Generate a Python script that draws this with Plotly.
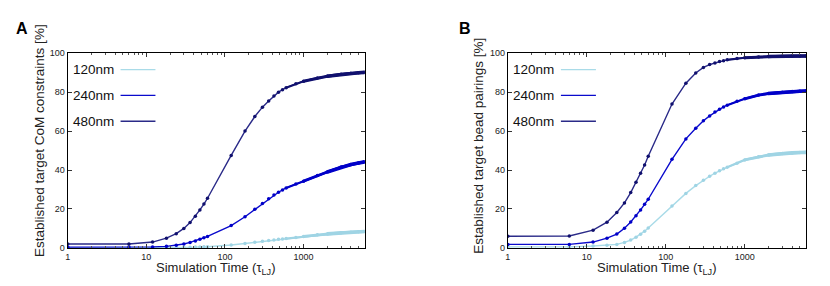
import plotly.graph_objects as go

# ---- data -------------------------------------------------------------
time = [1, 6, 12, 18, 24, 30, 36, 42, 48, 54, 60, 120, 180, 240, 300, 360,
        420, 480, 540, 600, 800, 1000, 1500, 2000, 3000, 4000, 5000, 6000]
series_names = ["120nm", "240nm", "480nm"]

a_120 = [0.0, 0.05, 0.1, 0.15, 0.2, 0.3, 0.35, 0.4, 0.5, 0.55, 0.6, 1.5, 2.3, 2.9,
         3.4, 3.8, 4.1, 4.4, 4.6, 4.8, 5.4, 5.9, 6.7, 7.2, 7.8, 8.1, 8.3, 8.4]
a_240 = [0.4, 0.4, 0.5, 0.8, 1.3, 2.0, 2.8, 3.6, 4.5, 5.2, 5.9, 11.5, 16.0, 19.8,
         22.8, 25.2, 27.2, 28.6, 29.8, 30.8, 32.8, 34.3, 37.2, 39.0, 41.5, 42.8, 43.6, 44.2]
a_480 = [2.0, 2.0, 3.0, 5.0, 7.3, 10.0, 13.0, 16.3, 19.5, 22.5, 25.5, 47.5, 60.0, 67.5,
         72.3, 75.5, 78.0, 80.0, 81.3, 82.3, 84.3, 85.6, 87.3, 88.2, 89.2, 89.7, 90.0, 90.2]

b_120 = [0.5, 0.5, 1.0, 1.3, 1.8, 2.8, 4.0, 5.5, 7.0, 8.6, 10.2, 21.5, 28.0, 32.0,
         34.8, 36.8, 38.4, 39.6, 40.6, 41.4, 43.5, 45.2, 46.8, 47.7, 48.5, 48.8, 49.0, 49.1]
b_240 = [1.8, 1.8, 3.0, 5.0, 7.1, 10.1, 13.3, 16.5, 19.5, 22.4, 25.0, 45.5, 56.0, 61.5,
         65.3, 67.8, 69.8, 71.2, 72.4, 73.3, 75.3, 76.6, 78.5, 79.3, 80.0, 80.3, 80.5, 80.6]
b_480 = [6.0, 6.1, 9.1, 13.2, 18.2, 23.1, 28.4, 33.7, 38.3, 42.6, 47.1, 73.9, 84.6, 89.9,
         92.7, 94.2, 95.0, 95.7, 96.2, 96.6, 97.3, 97.7, 98.1, 98.3, 98.5, 98.6, 98.6, 98.6]

x_ticks = [1, 10, 100, 1000]
x_tick_labels = ["1", "10", "100", "1000"]
y_ticks = [0, 20, 40, 60, 80, 100]

# ---- style -------------------------------------------------------------
line_colors = ["#a9dbe8", "#0a0acc", "#2a2a88"]
marker_colors = ["#9fd4e4", "#0000c8", "#10106e"]
# dense-sampling tail drawn as progressively thicker band
TAILS = [(600, 2.2), (1000, 2.9), (2000, 3.6)]

fig = go.Figure()

panels = [
    ("x", "y", [a_120, a_240, a_480]),
    ("x2", "y2", [b_120, b_240, b_480]),
]

for xr, yr, data in panels:
    for name, vals, lc, mc in zip(series_names, data, line_colors, marker_colors):
        fig.add_trace(go.Scatter(
            x=time, y=vals, xaxis=xr, yaxis=yr, name=name, showlegend=False,
            mode="lines+markers",
            line=dict(color=lc, width=1.4),
            marker=dict(color=mc, size=3.5, symbol="circle"),
        ))
        for t0, w in TAILS:
            tx = [t for t in time if t >= t0]
            ty = [v for t, v in zip(time, vals) if t >= t0]
            fig.add_trace(go.Scatter(
                x=tx, y=ty, xaxis=xr, yaxis=yr, showlegend=False, mode="lines",
                line=dict(color=mc, width=w), hoverinfo="skip",
            ))

font_family = "Liberation Sans, Arial, sans-serif"

def xaxis_cfg(domain, anchor):
    return dict(
        type="log", domain=domain, range=[0, 3.778], anchor=anchor,
        tickvals=x_ticks, ticktext=x_tick_labels,
        ticks="inside", ticklen=4, tickwidth=1, tickcolor="#333",
        minor=dict(ticks="inside", ticklen=2, tickcolor="#555", dtick="D1", showgrid=False),
        showline=True, linecolor="black", linewidth=1.2, mirror="allticks",
        showgrid=False, zeroline=False,
        tickfont=dict(size=9, color="#222", family=font_family),
    )

def yaxis_cfg(domain, anchor):
    return dict(
        domain=domain, range=[0, 100], tickvals=y_ticks, anchor=anchor,
        ticks="inside", ticklen=4, tickwidth=1, tickcolor="#333",
        showline=True, linecolor="black", linewidth=1.2, mirror="allticks",
        showgrid=False, zeroline=False,
        tickfont=dict(size=9, color="#222", family=font_family),
    )

W, H = 830, 286
ydom = [1 - 251.7 / H, 1 - 50 / H]
xa = [65 / W, 363 / W]
xb = [506.7 / W, 806 / W]

fig.update_layout(
    width=W, height=H,
    margin=dict(l=0, r=0, t=0, b=0),
    paper_bgcolor="white", plot_bgcolor="white",
    font=dict(family=font_family, color="#222"),
    xaxis=xaxis_cfg(xa, "y"), yaxis=yaxis_cfg(ydom, "x"),
    xaxis2=xaxis_cfg(xb, "y2"), yaxis2=yaxis_cfg(ydom, "x2"),
    showlegend=False,
)

annotations = []
shapes = []
ytitles = ["Established target CoM constraints [%]", "Established target bead pairings [%]"]
labels = ["A", "B"]
for i, (dom, xref) in enumerate([(xa, "x"), (xb, "x2")]):
    yref = "y" if i == 0 else "y2"
    annotations.append(dict(
        text="Simulation Time (τ<sub>LJ</sub>)", xref=f"{xref} domain", yref="paper",
        x=0.5, y=1 - 273 / H, showarrow=False, xanchor="center", yanchor="middle",
        font=dict(size=13, color="#222"),
    ))
    annotations.append(dict(
        text=ytitles[i], xref="paper", yref="paper",
        x=(dom[0] * W - 29) / W, y=1 - (140 if i == 0 else 146) / H, textangle=-90,
        showarrow=False, xanchor="center", yanchor="middle",
        font=dict(size=13.5, color="#222"),
    ))
    annotations.append(dict(
        text=f"<b>{labels[i]}</b>", xref="paper", yref="paper",
        x=(19 if i == 0 else 464) / W, y=1 - 24 / H, showarrow=False,
        xanchor="center", yanchor="middle", font=dict(size=16, color="black"),
    ))
    for k, (name, lc) in enumerate(zip(series_names, line_colors)):
        yy = 1 - (67 + 26.7 * k - 50) / 201.7
        annotations.append(dict(
            text=name, xref=f"{xref} domain", yref=f"{yref} domain",
            x=3.5 / 298, y=yy, showarrow=False, xanchor="left", yanchor="middle",
            font=dict(size=13.5, color="#111"),
        ))
        shapes.append(dict(
            type="line", xref=f"{xref} domain", yref=f"{yref} domain",
            x0=53 / 298, x1=88 / 298, y0=yy, y1=yy,
            line=dict(color=lc, width=1.4),
        ))

fig.update_layout(annotations=annotations, shapes=shapes)
fig.write_html(
    "out.html",
    config={"displayModeBar": False},
    post_script="document.body.style.margin='0';document.body.style.overflow='hidden';",
)
